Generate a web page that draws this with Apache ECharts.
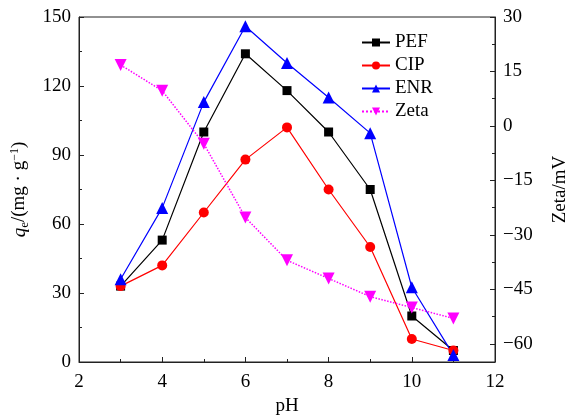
<!DOCTYPE html>
<html>
<head>
<meta charset="utf-8">
<script src="https://cdn.jsdelivr.net/npm/echarts@6/dist/echarts.min.js"></script>
<style>
  html, body { margin: 0; padding: 0; background: #fff; }
  #chart { width: 571px; height: 416px; }
</style>
</head>
<body>
<div id="chart"></div>
<script>
var ph = [3, 4, 5, 6, 7, 8, 9, 10, 11];
var pef = [33, 53, 100, 134, 118, 100, 75, 20, 5];
var cip = [33, 42, 65, 88, 102, 75, 50, 10, 5];
var enr = [36, 67, 113, 146, 130, 115, 99.5, 32.5, 3];
var zeta = [16.8, 9.7, -4.9, -25.2, -37, -42, -47, -50, -53];
var zetaTicks = [30, 15, 0, -15, -30, -45, -60];
var zetaMinor = [22.5, 7.5, -7.5, -22.5, -37.5, -52.5];

(function () {
  var font = '"Liberation Serif", "Times New Roman", serif';
  var ink = '#000';

  function pairs(ys) {
    return ph.map(function (x, i) { return [x, ys[i]]; });
  }
  function minus(v) { return String(v).replace('-', '\u2212'); }

  var chart = echarts.init(document.getElementById('chart'), null, { renderer: 'canvas' });
  chart.setOption({
    animation: false,
    textStyle: { fontFamily: font, color: ink },
    grid: {
      left: 79, right: 76, top: 17, bottom: 54,
      outerBoundsMode: 'none', containLabel: false,
      show: true, borderColor: '#222', borderWidth: 1
    },
    legend: {
      orient: 'vertical',
      left: 356,
      top: 28,
      itemGap: 4,
      itemWidth: 28,
      itemHeight: 10,
      textStyle: { fontFamily: font, fontSize: 19, color: ink },
      data: ['PEF', 'CIP', 'ENR', 'Zeta']
    },
    xAxis: {
      type: 'value',
      min: 2,
      max: 12,
      interval: 2,
      name: 'pH',
      nameLocation: 'middle',
      nameGap: 34,
      nameTextStyle: { fontFamily: font, fontSize: 19, color: ink },
      axisLine: { lineStyle: { color: '#222' } },
      axisTick: { inside: true, length: 5, lineStyle: { color: '#222' } },
      minorTick: { show: true, splitNumber: 2, length: 3, lineStyle: { color: '#222' } },
      axisLabel: { fontFamily: font, fontSize: 19, color: ink, margin: 11 },
      splitLine: { show: false }
    },
    yAxis: [{
      type: 'value',
      min: 0,
      max: 150,
      interval: 30,
      name: '{i|q}{s|e}/(mg · g{p|−1})',
      nameLocation: 'middle',
      nameRotate: 90,
      nameGap: 48,
      nameTextStyle: {
        fontFamily: font, fontSize: 19, color: ink,
        rich: {
          i: { fontFamily: font, fontSize: 19, fontStyle: 'italic' },
          s: { fontFamily: font, fontSize: 13, padding: [10, 0, 0, 0] },
          p: { fontFamily: font, fontSize: 12, padding: [0, 0, 9, 0] }
        }
      },
      axisLine: { show: true, lineStyle: { color: '#222' } },
      axisTick: { inside: true, length: 5, lineStyle: { color: '#222' } },
      minorTick: { show: true, splitNumber: 2, length: 3, lineStyle: { color: '#222' } },
      axisLabel: { fontFamily: font, fontSize: 19, color: ink, margin: 8 },
      splitLine: { show: false }
    }, {
      type: 'value',
      position: 'right',
      min: -65,
      max: 30,
      name: 'Zeta/mV',
      nameLocation: 'middle',
      nameRotate: 90,
      nameGap: 56,
      nameTextStyle: { fontFamily: font, fontSize: 19, color: ink },
      axisLine: { show: true, lineStyle: { color: '#222' } },
      axisTick: { inside: true, length: 5, customValues: zetaTicks, lineStyle: { color: '#222' } },
      axisLabel: { fontFamily: font, fontSize: 19, color: ink, margin: 8, customValues: zetaTicks, formatter: minus },
      splitLine: { show: false }
    }, {
      type: 'value',
      position: 'right',
      min: -65,
      max: 30,
      axisLine: { show: false },
      axisTick: { show: true, inside: true, length: 3, customValues: zetaMinor, lineStyle: { color: '#222' } },
      axisLabel: { show: false, customValues: zetaMinor },
      splitLine: { show: false }
    }],
    series: [{
      name: 'PEF', type: 'line', data: pairs(pef),
      symbol: 'rect', symbolSize: 9,
      lineStyle: { color: '#000', width: 1.2 },
      itemStyle: { color: '#000' }
    }, {
      name: 'CIP', type: 'line', data: pairs(cip),
      symbol: 'circle', symbolSize: 10,
      lineStyle: { color: '#ff0000', width: 1.2 },
      itemStyle: { color: '#ff0000' }
    }, {
      name: 'ENR', type: 'line', data: pairs(enr),
      symbol: 'triangle', symbolSize: 12,
      lineStyle: { color: '#0000ff', width: 1.2 },
      itemStyle: { color: '#0000ff' }
    }, {
      name: 'Zeta', type: 'line', yAxisIndex: 1, data: pairs(zeta),
      symbol: 'triangle', symbolRotate: 180, symbolSize: 12,
      lineStyle: { color: '#ff00ff', width: 1.5, type: 'dotted' },
      itemStyle: { color: '#ff00ff' }
    }]
  });
})();
</script>
</body>
</html>
